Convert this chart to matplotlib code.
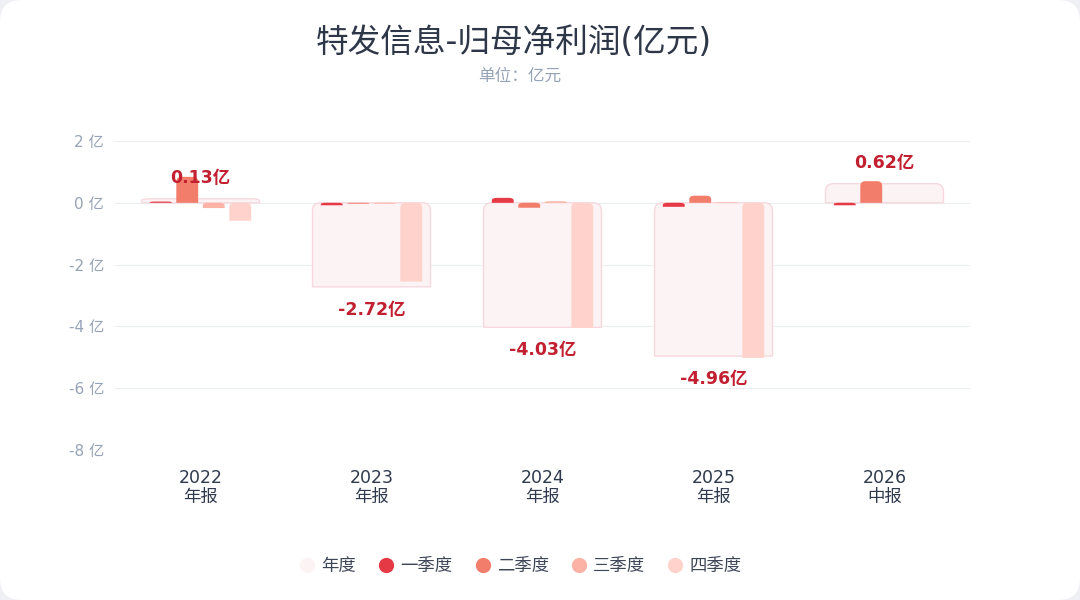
import matplotlib
matplotlib.use("Agg")
import matplotlib.pyplot as plt
from matplotlib.path import Path
from matplotlib.patches import PathPatch, FancyBboxPatch
from matplotlib.lines import Line2D

plt.rcParams['font.family'] = ['DejaVu Sans', 'Noto Sans CJK SC']

# data (亿元)
years = ['2022', '2023', '2024', '2025', '2026']
periods = ['年报', '年报', '年报', '年报', '中报']
annual = [0.13, -2.72, -4.03, -4.96, 0.62]
q1 = [0.04, -0.08, 0.16, -0.13, -0.08]
q2 = [0.84, -0.03, -0.16, 0.23, 0.70]
q3 = [-0.17, -0.03, 0.05, 0.02, 0.0]
q4 = [-0.58, -2.55, -4.05, -5.02, 0.0]
yticks = [2, 0, -2, -4, -6, -8]

q_colors = ['#e63946', '#f27d6b', '#fcb3a6', '#ffd3cb']
q_names = ['一季度', '二季度', '三季度', '四季度']
annual_fill = '#fcf3f4'
annual_edge = '#f6d9de'

fig = plt.figure(figsize=(10.8, 6.0), dpi=100)
fig.patch.set_facecolor('#eef0f3')
card = FancyBboxPatch((0.0, 0.0), 1.0, 1.0,
                      boxstyle="round,pad=0,rounding_size=0.02",
                      mutation_aspect=1.8,
                      transform=fig.transFigure, facecolor='white',
                      edgecolor='none', zorder=-5)
fig.patches.append(card)

ax = fig.add_axes([115 / 1080, 1 - 450 / 600, 855 / 1080, 309 / 600])
ax.set_facecolor('none')
ax.set_zorder(1)
ax.set_xlim(-0.5, 4.5)
ax.set_ylim(-8, 2)

px_x = 855 / 5.0
px_y = 309 / 10.0


def bar(x, w, v, r_px, **kw):
    if v == 0:
        return
    lo, hi = min(0, v), max(0, v)
    rx = min(r_px / px_x, w / 2)
    ry = min(r_px / px_y, (hi - lo) / 2)
    x0, x1 = x - w / 2, x + w / 2
    verts = [(x0, lo), (x1, lo), (x1, hi - ry), (x1, hi), (x1 - rx, hi),
             (x0 + rx, hi), (x0, hi), (x0, hi - ry), (x0, lo)]
    codes = [Path.MOVETO, Path.LINETO, Path.LINETO, Path.CURVE3, Path.CURVE3,
             Path.LINETO, Path.CURVE3, Path.CURVE3, Path.CLOSEPOLY]
    ax.add_patch(PathPatch(Path(verts, codes), **kw))


for i in range(len(years)):
    bar(i, 0.69, annual[i], 8, facecolor=annual_fill, edgecolor=annual_edge,
        lw=1.0, zorder=2)
    for j, vals in enumerate([q1, q2, q3, q4]):
        bar(i + (j - 1.5) * 0.155, 0.128, vals[i], 5,
            facecolor=q_colors[j], edgecolor='none', zorder=3)
    v = annual[i]
    off = 21 if v >= 0 else -23
    ax.annotate(f'{v:.2f}亿', (i, v), xytext=(0, off), textcoords='offset pixels',
                ha='center', va='center', fontsize=12.5, fontweight='bold',
                color='#c21f30', zorder=5)

ax.set_yticks(yticks)
ax.set_yticklabels([f'{t} 亿' for t in yticks], fontsize=11, color='#97a3b6')
ax.set_xticks(range(len(years)))
ax.set_xticklabels([f'{y}\n{p}' for y, p in zip(years, periods)],
                   fontsize=12.5, color='#2f3a4d', linespacing=1.0)
ax.tick_params(length=0)
ax.tick_params(axis='x', pad=14)
ax.tick_params(axis='y', pad=8)
ax.grid(axis='y', color='#ebedf0', lw=0.8, zorder=0)
ax.set_axisbelow(True)
for s in ax.spines.values():
    s.set_visible(False)

fig.text(514 / 1080, 1 - 42 / 600, '特发信息-归母净利润(亿元)', ha='center', va='center',
         fontsize=23.5, color='#2d3748')
fig.text(520 / 1080, 1 - 76 / 600, '单位：亿元', ha='center', va='center',
         fontsize=12, color='#97a3b6')

handles = [Line2D([], [], ls='none', marker='o', markersize=11,
                  markerfacecolor=annual_fill, markeredgecolor='none')]
handles += [Line2D([], [], ls='none', marker='o', markersize=11,
                   markerfacecolor=c, markeredgecolor='none') for c in q_colors]
fig.legend(handles, ['年度'] + q_names, loc='center', ncol=5,
           bbox_to_anchor=(520 / 1080, 1 - 566 / 600), frameon=False, fontsize=12.5,
           labelcolor='#3d4657', handlelength=1.0, handletextpad=0.3,
           columnspacing=1.25)

fig.savefig('out.png', dpi=100, facecolor=fig.get_facecolor())
